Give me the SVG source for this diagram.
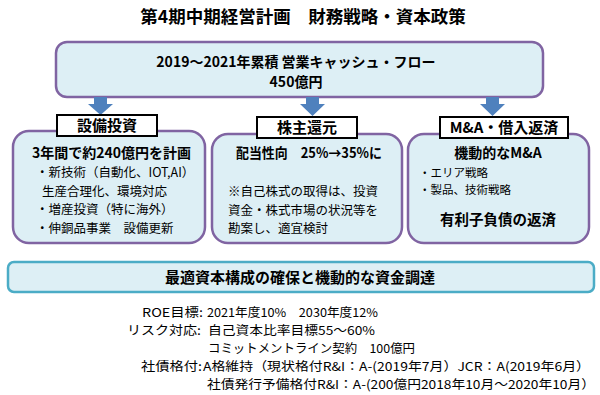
<svg xmlns="http://www.w3.org/2000/svg" width="600" height="395" viewBox="0 0 600 395">
<style>
text{font-family:"Noto Sans CJK JP","Noto Sans",sans-serif;fill:#000;white-space:pre}
.t{font-size:17.5px;font-weight:700}
.m{font-size:14px;font-weight:700}
.l{font-size:15px;font-weight:700}
.s{font-size:12.5px}
.r{font-size:11.5px}
.n{font-size:12.4px}
.box{fill:#DDEFF5;stroke:#8064A2;stroke-width:2.5}
.box2{fill:#DDEFF5;stroke:#4BACC6;stroke-width:2.5}
.lab{fill:#fff;stroke:#000;stroke-width:2}
.arr{fill:#4F81BD}
</style>
<rect width="600" height="395" fill="#fff"/>
<text class="t" x="303" y="23" text-anchor="middle">第4期中期経営計画　財務戦略・資本政策</text>

<g id="top">
<rect class="box" x="56" y="42" width="487" height="55" rx="11"/>
<text class="m" x="296" y="67" text-anchor="middle">2019～2021年累積 営業キャッシュ・フロー</text>
<text class="m" x="296" y="87" text-anchor="middle">450億円</text>
</g>

<g id="connectors">
<path class="arr" d="M94 97H107V104H113L100.5 115L88 104H94Z"/>
<path class="arr" d="M306 97H319V104H325L312.5 116L300 104H306Z"/>
<path class="arr" d="M486 97H499V104H505L492.5 116L480 104H486Z"/>
</g>

<g id="capex">
<rect class="box" x="13" y="131" width="192" height="112" rx="16"/>
<rect class="lab" x="57" y="115" width="100" height="21"/>
<text class="l" x="107" y="131" text-anchor="middle">設備投資</text>
<text class="m" x="32" y="158">3年間で約240億円を計画</text>
<text class="s" x="36" y="177">・新技術（自動化、IOT,AI）</text>
<text class="s" x="42" y="195.5">生産合理化、環境対応</text>
<text class="s" x="36" y="214">・増産投資（特に海外）</text>
<text class="s" x="36" y="232.5">・伸銅品事業　設備更新</text>
</g>

<g id="return">
<rect class="box" x="212" y="134" width="190" height="109" rx="16"/>
<rect class="lab" x="257" y="117" width="100" height="21"/>
<text class="l" x="307" y="133" text-anchor="middle">株主還元</text>
<text class="m" x="236" y="158" textLength="146" lengthAdjust="spacingAndGlyphs">配当性向　25%→35%に</text>
<text class="s" x="228" y="196">※自己株式の取得は、投資</text>
<text class="s" x="228" y="214.5">資金・株式市場の状況等を</text>
<text class="s" x="228" y="233">勘案し、適宜検討</text>
</g>

<g id="ma">
<rect class="box" x="408" y="134" width="181" height="109" rx="16"/>
<rect class="lab" x="440" y="117" width="128" height="21"/>
<text class="l" x="504" y="133" text-anchor="middle">M&amp;A・借入返済</text>
<text class="m" x="498" y="158" text-anchor="middle">機動的なM&amp;A</text>
<text class="r" x="419" y="177">・エリア戦略</text>
<text class="r" x="419" y="194">・製品、技術戦略</text>
<text class="m" x="498" y="225" text-anchor="middle" style="font-size:14.5px">有利子負債の返済</text>
</g>

<g id="capital">
<rect class="box2" x="8" y="262" width="586" height="30" rx="6"/>
<text class="l" x="300" y="283" text-anchor="middle">最適資本構成の確保と機動的な資金調達</text>
</g>

<g id="notes">
<text class="n" x="142" y="317" textLength="61" lengthAdjust="spacingAndGlyphs">ROE目標:</text>
<text class="n" x="207" y="317" textLength="171" lengthAdjust="spacingAndGlyphs">2021年度10%　2030年度12%</text>
<text class="n" x="127" y="335" textLength="74" lengthAdjust="spacingAndGlyphs">リスク対応:</text>
<text class="n" x="208" y="335" textLength="167" lengthAdjust="spacingAndGlyphs">自己資本比率目標55～60%</text>
<text class="n" x="208" y="352.5" textLength="207" lengthAdjust="spacingAndGlyphs">コミットメントライン契約　100億円</text>
<text class="n" x="141" y="370.5" textLength="61" lengthAdjust="spacingAndGlyphs">社債格付:</text>
<text class="n" x="203" y="370.5" textLength="387" lengthAdjust="spacingAndGlyphs">A格維持（現状格付R&amp;I：A-(2019年7月）JCR：A(2019年6月）</text>
<text class="n" x="207" y="389" textLength="388" lengthAdjust="spacingAndGlyphs">社債発行予備格付R&amp;I：A-(200億円2018年10月～2020年10月）</text>
</g>
</svg>
